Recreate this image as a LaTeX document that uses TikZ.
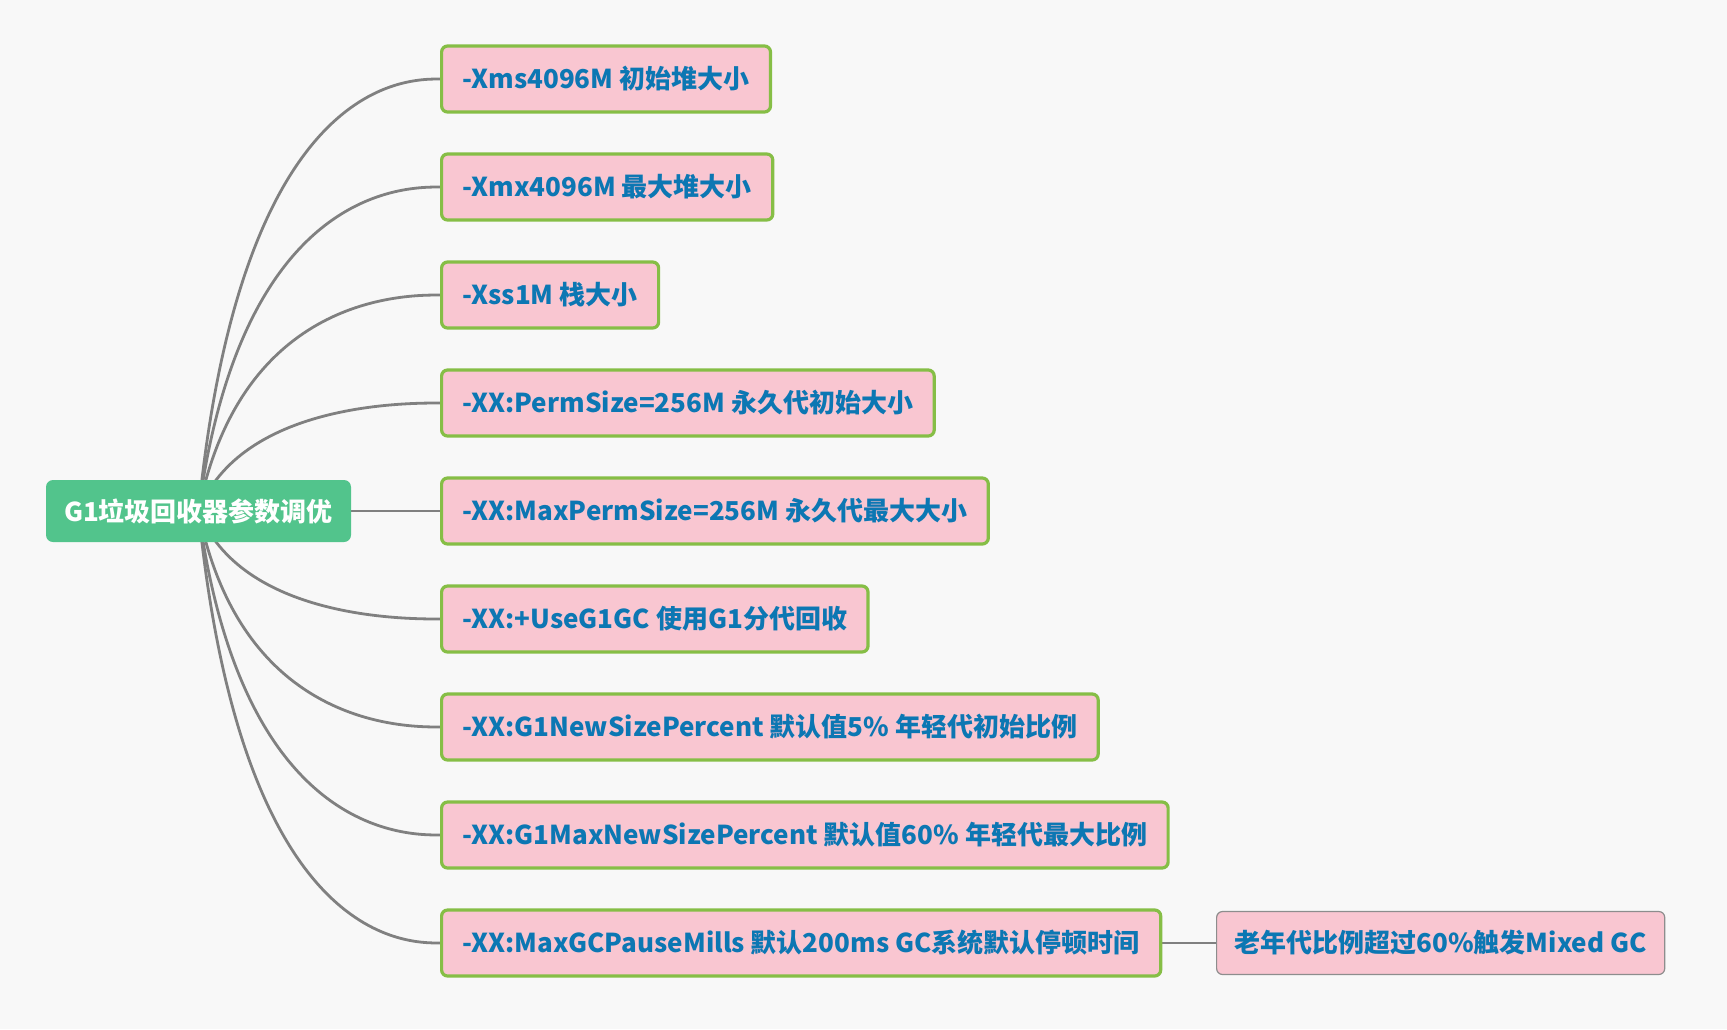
\documentclass[tikz,border=0pt]{standalone}
\usepackage{fontspec}
\setmainfont{Noto Sans CJK SC}
\usetikzlibrary{calc,backgrounds}

\definecolor{paper}{HTML}{F8F8F8}
\definecolor{rootgreen}{HTML}{52C48C}
\definecolor{leafpink}{HTML}{F9C6D1}
\definecolor{leafedge}{HTML}{86BE46}
\definecolor{leafblue}{HTML}{0C77B3}
\definecolor{linkgray}{HTML}{808080}

\begin{document}
\begin{tikzpicture}[x=1pt, y=-1pt,
  every node/.style={font=\fontsize{26}{30}\selectfont\bfseries},
  topic/.style={fill=rootgreen, text=white, rounded corners=7pt, minimum width=305pt, minimum height=62pt},
  leaf/.style={draw=leafedge, line width=3.2pt, fill=leafpink, text=leafblue, rounded corners=6pt,
    anchor=west, minimum height=66pt, inner xsep=21pt},
  note/.style={draw=linkgray!90, line width=1.2pt, fill=leafpink, text=leafblue, rounded corners=6pt,
    anchor=west, minimum height=63pt, inner xsep=18pt},
  link/.style={draw=linkgray, line width=2.8pt}]
  \useasboundingbox (0,0) rectangle (1727,1029);

  \node[topic] (root) at (198.5, 511) {G1垃圾回收器参数调优};

  \node[leaf] (xms) at (440, 79) {-Xms4096M 初始堆大小};
  \node[leaf] (xmx) at (440, 187) {-Xmx4096M 最大堆大小};
  \node[leaf] (xss) at (440, 295) {-Xss1M 栈大小};
  \node[leaf] (perm) at (440, 403) {-XX:PermSize=256M 永久代初始大小};
  \node[leaf] (maxperm) at (440, 511) {-XX:MaxPermSize=256M 永久代最大大小};
  \node[leaf] (useg1) at (440, 619) {-XX:+UseG1GC 使用G1分代回收};
  \node[leaf] (newsize) at (440, 727) {-XX:G1NewSizePercent 默认值5\% 年轻代初始比例};
  \node[leaf] (maxnew) at (440, 835) {-XX:G1MaxNewSizePercent 默认值60\% 年轻代最大比例};
  \node[leaf] (pause) at (440, 943) {-XX:MaxGCPauseMills 默认200ms GC系统默认停顿时间};
  \node[note] (mixed) at (1216, 943) {老年代比例超过60\%触发Mixed GC};

  \begin{scope}[on background layer]
    \fill[paper] (0,0) rectangle (1727,1029);
    % curved branches out of the topic
    \draw[link] (root.center) .. controls ($(root.center |- xms.west)+(43,0)$) and +(-35,0) .. (xms.west);
    \draw[link] (root.center) .. controls ($(root.center |- xmx.west)+(43,0)$) and +(-35,0) .. (xmx.west);
    \draw[link] (root.center) .. controls ($(root.center |- xss.west)+(43,0)$) and +(-35,0) .. (xss.west);
    \draw[link] (root.center) .. controls ($(root.center |- perm.west)+(43,0)$) and +(-35,0) .. (perm.west);
    \draw[link] (root.east) -- (maxperm.west);
    \draw[link] (root.center) .. controls ($(root.center |- useg1.west)+(43,0)$) and +(-35,0) .. (useg1.west);
    \draw[link] (root.center) .. controls ($(root.center |- newsize.west)+(43,0)$) and +(-35,0) .. (newsize.west);
    \draw[link] (root.center) .. controls ($(root.center |- maxnew.west)+(43,0)$) and +(-35,0) .. (maxnew.west);
    \draw[link] (root.center) .. controls ($(root.center |- pause.west)+(43,0)$) and +(-35,0) .. (pause.west);
    \draw[link] (pause.east) -- (mixed.west);
  \end{scope}
\end{tikzpicture}
\end{document}
